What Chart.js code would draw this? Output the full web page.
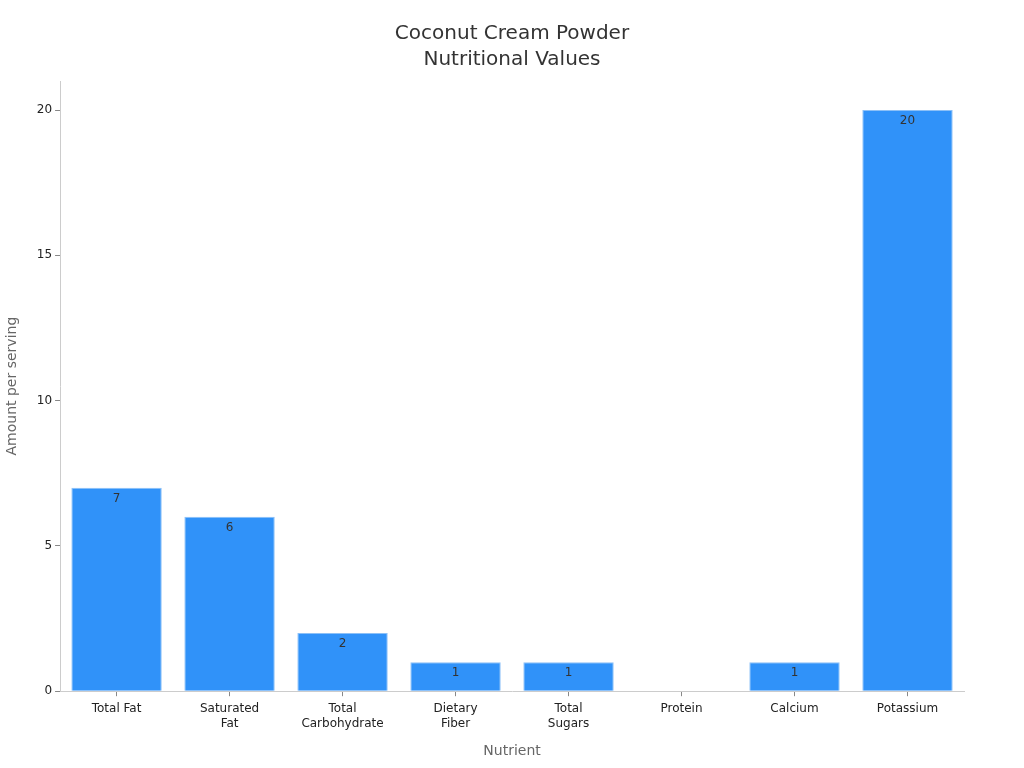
<!DOCTYPE html>
<html>
<head>
<meta charset="utf-8">
<script src="https://cdn.jsdelivr.net/npm/chart.js@4"></script>
<style>
  html, body { margin: 0; padding: 0; background: #fff; }
  #wrap { width: 1024px; height: 768px; }
</style>
</head>
<body>
<div id="wrap"><canvas id="chart"></canvas></div>
<script>
const nutrients = ['Total Fat', ['Saturated', 'Fat'], ['Total', 'Carbohydrate'], ['Dietary', 'Fiber'], ['Total', 'Sugars'], 'Protein', 'Calcium', 'Potassium'];
const amounts = [7, 6, 2, 1, 1, 0, 1, 20];
const titleLines = ['Coconut Cream Powder', 'Nutritional Values'];

const FONT = 'DejaVu Sans';

// judul di tengah kanvas (bukan di tengah area chart)
const centerTitle = {
  id: 'centerTitle',
  afterDraw(chart) {
    const ctx = chart.ctx;
    ctx.save();
    ctx.font = '20px ' + FONT;
    ctx.fillStyle = '#333';
    ctx.textAlign = 'center';
    ctx.textBaseline = 'middle';
    titleLines.forEach((line, i) => ctx.fillText(line, chart.width / 2, 34 + i * 26));
    ctx.restore();
  }
};

// etiket nilai di dalam bagian atas batang
const valueLabels = {
  id: 'valueLabels',
  afterDatasetsDraw(chart) {
    const ctx = chart.ctx;
    const meta = chart.getDatasetMeta(0);
    ctx.save();
    ctx.font = '12px ' + FONT;
    ctx.fillStyle = '#333';
    ctx.textAlign = 'center';
    ctx.textBaseline = 'middle';
    meta.data.forEach((bar, i) => {
      if (!amounts[i]) return;
      ctx.fillText(String(amounts[i]), bar.x, bar.y + 11);
    });
    ctx.restore();
  }
};

new Chart(document.getElementById('chart').getContext('2d'), {
  type: 'bar',
  data: {
    labels: nutrients,
    datasets: [{
      data: amounts,
      backgroundColor: '#3092f9',
      borderColor: '#8cc0f7',
      borderWidth: 1,
      barPercentage: 0.8,
      categoryPercentage: 1
    }]
  },
  options: {
    responsive: true,
    maintainAspectRatio: false,
    animation: false,
    layout: { padding: { left: 0, right: 60, top: 81, bottom: 4 } },
    plugins: {
      legend: { display: false },
      tooltip: { enabled: false },
      title: { display: false }
    },
    scales: {
      x: {
        border: { color: '#ccc' },
        grid: { offset: false, drawOnChartArea: false, drawTicks: true, tickLength: 5, color: '#888' },
        ticks: { color: '#222', font: { family: FONT, size: 12, lineHeight: 1.25 }, maxRotation: 0, autoSkip: false, padding: 5 },
        title: { display: true, text: 'Nutrient', color: '#666', font: { family: FONT, size: 14 }, padding: { top: 7 } }
      },
      y: {
        min: 0,
        max: 21,
        afterBuildTicks(axis) {
          axis.ticks = [0, 5, 10, 15, 20].map(v => ({ value: v }));
        },
        border: { color: '#ccc' },
        grid: { drawOnChartArea: false, drawTicks: true, tickLength: 5, color: '#888' },
        ticks: { color: '#222', font: { family: FONT, size: 12 }, padding: 3 },
        title: { display: true, text: 'Amount per serving', color: '#666', font: { family: FONT, size: 14 }, padding: { bottom: 13 } }
      }
    }
  },
  plugins: [valueLabels, centerTitle]
});
</script>
</body>
</html>
